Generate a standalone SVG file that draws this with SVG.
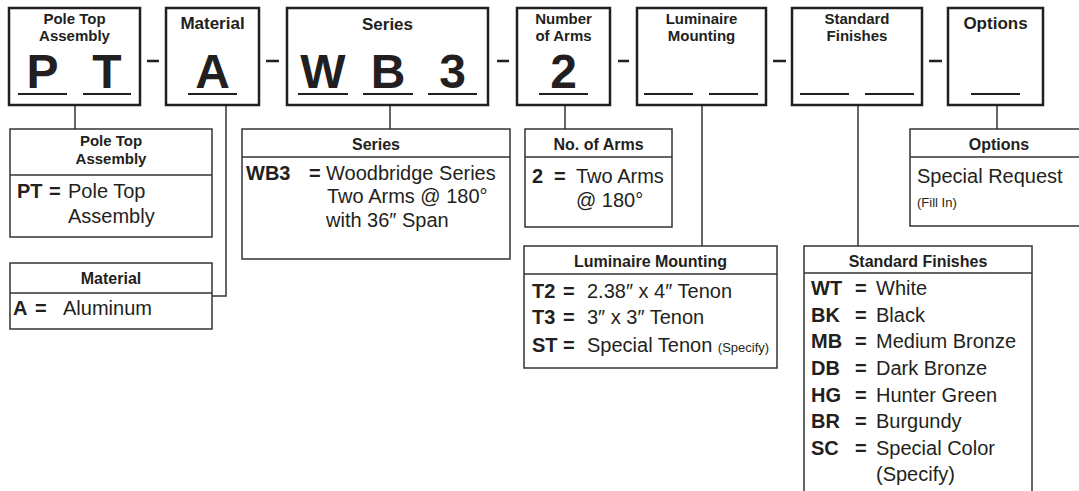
<svg xmlns="http://www.w3.org/2000/svg" width="1079" height="491" viewBox="0 0 1079 491">
<style>
text{font-family:"Liberation Sans",Arial,sans-serif;fill:#231f20}
.box{fill:#fff;stroke:#231f20;stroke-width:2.5}
.ul{stroke:#231f20;stroke-width:2}
.dash{stroke:#231f20;stroke-width:2.5}
.tt{font-size:17px;font-weight:bold;text-anchor:middle}
.t2{font-size:15px;font-weight:bold;text-anchor:middle}
.big{font-size:48px;font-weight:bold;text-anchor:middle}
.lg{fill:#fff;stroke:#333;stroke-width:1.5}
.dv{stroke:#333;stroke-width:1.5}
.hd{font-size:16px;font-weight:bold;text-anchor:middle}
.h2{font-size:15px;font-weight:bold;text-anchor:middle}
.b{font-size:20px}
.c{font-size:20px;font-weight:bold}
.s{font-size:13px}
.con{fill:none;stroke:#333;stroke-width:1.5}
</style>
<g id="connectors">
<path class="con" d="M75 105V129"/>
<path class="con" d="M226 105V296H212"/>
<path class="con" d="M390 105V129"/>
<path class="con" d="M565 105V129"/>
<path class="con" d="M702 105V246"/>
<path class="con" d="M858 105V246"/>
<path class="con" d="M997 105V129"/>
</g>
<g id="dashes">
<line class="dash" x1="147" y1="61" x2="159" y2="61"/>
<line class="dash" x1="266" y1="61" x2="279" y2="61"/>
<line class="dash" x1="497" y1="61" x2="509" y2="61"/>
<line class="dash" x1="618" y1="61" x2="629" y2="61"/>
<line class="dash" x1="773" y1="61" x2="786" y2="61"/>
<line class="dash" x1="929" y1="61" x2="942" y2="61"/>
</g>
<g id="top-pole-top">
<rect class="box" x="9" y="8" width="131" height="97"/>
<text class="t2" x="74.5" y="24">Pole Top</text>
<text class="t2" x="74.5" y="41">Assembly</text>
<text class="big" x="42.5" y="88">P</text>
<text class="big" x="107" y="88">T</text>
<line class="ul" x1="18" y1="94" x2="67" y2="94"/>
<line class="ul" x1="83" y1="94" x2="131" y2="94"/>
</g>
<g id="top-material">
<rect class="box" x="166" y="8" width="93" height="97"/>
<text class="tt" x="212.5" y="29">Material</text>
<text class="big" x="212.5" y="88">A</text>
<line class="ul" x1="188" y1="94" x2="237" y2="94"/>
</g>
<g id="top-series">
<rect class="box" x="287" y="8" width="201" height="97"/>
<text class="tt" x="387.5" y="30">Series</text>
<text class="big" x="323" y="88">W</text>
<text class="big" x="388" y="88">B</text>
<text class="big" x="452.5" y="88">3</text>
<line class="ul" x1="298" y1="94" x2="348" y2="94"/>
<line class="ul" x1="363" y1="94" x2="413" y2="94"/>
<line class="ul" x1="428" y1="94" x2="477" y2="94"/>
</g>
<g id="top-arms">
<rect class="box" x="517" y="8" width="93" height="97"/>
<text class="t2" x="563.5" y="24">Number</text>
<text class="t2" x="563.5" y="41">of Arms</text>
<text class="big" x="563.5" y="88">2</text>
<line class="ul" x1="539" y1="94" x2="588" y2="94"/>
</g>
<g id="top-mounting">
<rect class="box" x="637" y="8" width="129" height="97"/>
<text class="t2" x="701.5" y="24">Luminaire</text>
<text class="t2" x="701.5" y="41">Mounting</text>
<line class="ul" x1="644" y1="94" x2="693" y2="94"/>
<line class="ul" x1="709" y1="94" x2="758" y2="94"/>
</g>
<g id="top-finishes">
<rect class="box" x="792" y="8" width="130" height="97"/>
<text class="t2" x="857" y="24">Standard</text>
<text class="t2" x="857" y="41">Finishes</text>
<line class="ul" x1="800" y1="94" x2="849" y2="94"/>
<line class="ul" x1="865" y1="94" x2="914" y2="94"/>
</g>
<g id="top-options">
<rect class="box" x="948" y="8" width="95" height="97"/>
<text class="tt" x="995.5" y="29">Options</text>
<line class="ul" x1="971" y1="94" x2="1020" y2="94"/>
</g>
<g id="legend-pole-top">
<rect class="lg" x="10" y="129" width="202" height="108"/>
<line class="dv" x1="10" y1="175" x2="212" y2="175"/>
<text class="h2" x="111" y="146">Pole Top</text>
<text class="h2" x="111" y="164">Assembly</text>
<text class="c" x="17" y="198">PT</text>
<text class="c" x="49" y="198">=</text>
<text class="b" x="68" y="198">Pole Top</text>
<text class="b" x="68" y="223">Assembly</text>
</g>
<g id="legend-material">
<rect class="lg" x="10" y="263" width="202" height="66"/>
<line class="dv" x1="10" y1="293" x2="212" y2="293"/>
<text class="hd" x="111" y="284">Material</text>
<text class="c" x="13" y="315">A</text>
<text class="c" x="35" y="315">=</text>
<text class="b" x="63" y="315">Aluminum</text>
</g>
<g id="legend-series">
<rect class="lg" x="242" y="129" width="268" height="130"/>
<line class="dv" x1="242" y1="157" x2="510" y2="157"/>
<text class="hd" x="376" y="150">Series</text>
<text class="c" x="246" y="180">WB3</text>
<text class="c" x="309" y="180">=</text>
<text class="b" x="326" y="180">Woodbridge Series</text>
<text class="b" x="327" y="203">Two Arms @ 180°</text>
<text class="b" x="326" y="227">with 36″ Span</text>
</g>
<g id="legend-arms">
<rect class="lg" x="525" y="129" width="147" height="98"/>
<line class="dv" x1="525" y1="157" x2="672" y2="157"/>
<text class="hd" x="598.5" y="150">No. of Arms</text>
<text class="c" x="532" y="183">2</text>
<text class="c" x="554" y="183">=</text>
<text class="b" x="576" y="183">Two Arms</text>
<text class="b" x="576" y="207">@ 180°</text>
</g>
<g id="legend-mounting">
<rect class="lg" x="524" y="246" width="253" height="122"/>
<line class="dv" x1="524" y1="274" x2="777" y2="274"/>
<text class="hd" x="650.5" y="267">Luminaire Mounting</text>
<text class="c" x="532" y="298">T2</text>
<text class="c" x="563" y="298">=</text>
<text class="b" x="587" y="298">2.38″ x 4″ Tenon</text>
<text class="c" x="532" y="324">T3</text>
<text class="c" x="563" y="324">=</text>
<text class="b" x="587" y="324">3″ x 3″ Tenon</text>
<text class="c" x="532" y="352">ST</text>
<text class="c" x="563" y="352">=</text>
<text class="b" x="587" y="352">Special Tenon <tspan class="s">(Specify)</tspan></text>
</g>
<g id="legend-options">
<rect class="lg" x="910" y="129" width="175" height="97"/>
<line class="dv" x1="910" y1="157" x2="1085" y2="157"/>
<text class="hd" x="999" y="150">Options</text>
<text class="b" x="917" y="183">Special Request</text>
<text class="s" x="917" y="207">(Fill In)</text>
</g>
<g id="legend-finishes">
<rect class="lg" x="804" y="246" width="228" height="254"/>
<line class="dv" x1="804" y1="273" x2="1032" y2="273"/>
<text class="hd" x="918" y="267">Standard Finishes</text>
<text class="c" x="811" y="295">WT</text><text class="c" x="855" y="295">=</text><text class="b" x="876" y="295">White</text>
<text class="c" x="811" y="322">BK</text><text class="c" x="855" y="322">=</text><text class="b" x="876" y="322">Black</text>
<text class="c" x="811" y="348">MB</text><text class="c" x="855" y="348">=</text><text class="b" x="876" y="348">Medium Bronze</text>
<text class="c" x="811" y="375">DB</text><text class="c" x="855" y="375">=</text><text class="b" x="876" y="375">Dark Bronze</text>
<text class="c" x="811" y="402">HG</text><text class="c" x="855" y="402">=</text><text class="b" x="876" y="402">Hunter Green</text>
<text class="c" x="811" y="428">BR</text><text class="c" x="855" y="428">=</text><text class="b" x="876" y="428">Burgundy</text>
<text class="c" x="811" y="455">SC</text><text class="c" x="855" y="455">=</text><text class="b" x="876" y="455">Special Color</text>
<text class="b" x="876" y="481">(Specify)</text>
</g>
</svg>
